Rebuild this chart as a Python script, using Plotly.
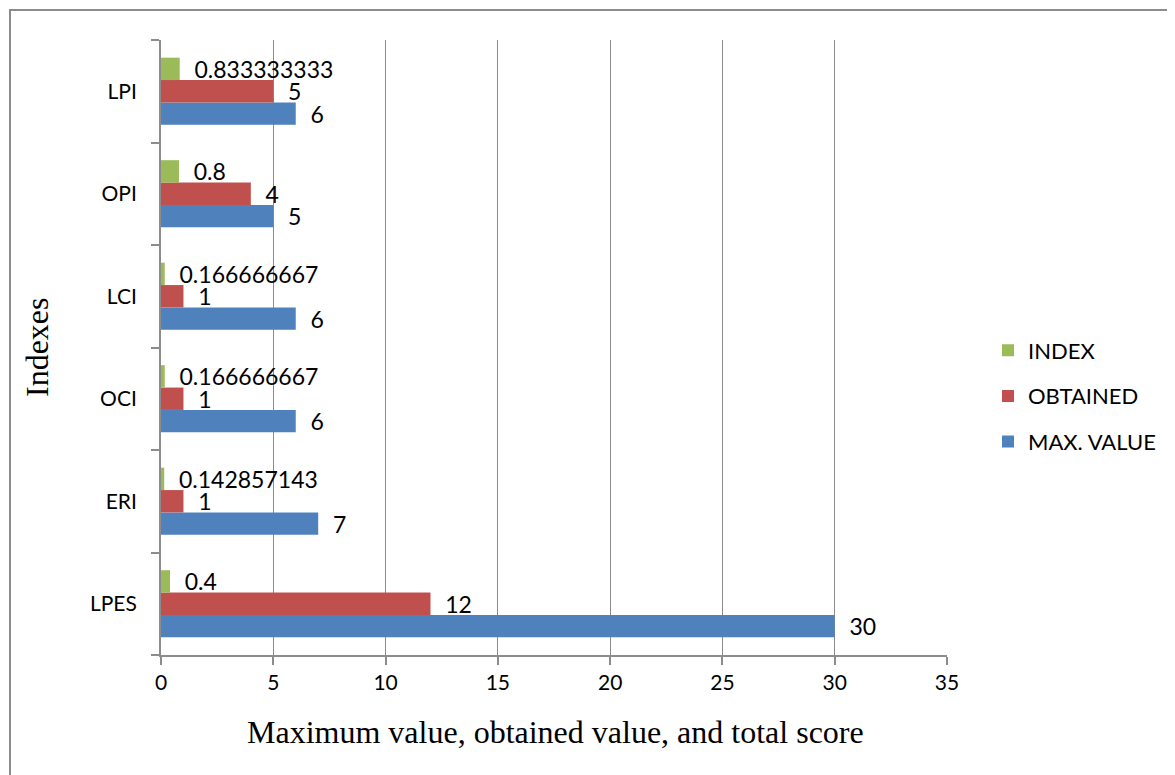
import plotly.graph_objects as go

categories = ["LPES", "ERI", "OCI", "LCI", "OPI", "LPI"]
max_value = [30, 7, 6, 6, 5, 6]
obtained = [12, 1, 1, 1, 4, 5]
index_vals = [0.4, 0.142857143, 0.166666667, 0.166666667, 0.8, 0.833333333]
x_ticks = [0, 5, 10, 15, 20, 25, 30, 35]

series = [
    ("MAX. VALUE", max_value, "#4F81BD", 3),
    ("OBTAINED", obtained, "#C0504D", 2),
    ("INDEX", index_vals, "#9BBB59", 1),
]

fig = go.Figure()
for name, vals, color, rank in series:
    fig.add_trace(go.Bar(
        y=categories, x=vals, name=name, orientation="h",
        marker=dict(color=color, line=dict(width=0)),
        text=["  " + f"{v:.9g}" for v in vals],
        textposition="outside", constraintext="none", cliponaxis=False,
        textfont=dict(family="Lato", size=23, color="black"),
        legendgroup=name, legendrank=rank,
    ))

OFF = 8  # page body margin
W, H = 1175 - OFF, 775 - OFF
L, R, T, B = 161 - OFF, 947 - OFF, 40 - OFF, 655 - OFF
pw, ph = R - L, B - T
fig.update_layout(
    width=W, height=H,
    margin=dict(l=L, r=W - R, t=T, b=H - B, autoexpand=False),
    barmode="group", bargap=0.345, bargroupgap=0,
    plot_bgcolor="white", paper_bgcolor="white",
    font=dict(family="Lato", size=21, color="black"),
    legend=dict(
        x=(988 - OFF - L) / pw, y=(B - (396 - OFF)) / ph, xanchor="left", yanchor="middle",
        traceorder="grouped", tracegroupgap=14,
        font=dict(family="Lato", size=22, color="black"),
        itemwidth=30,
    ),
    showlegend=True,
)
fig.update_xaxes(
    range=[0, 35], tickvals=x_ticks, showgrid=True, gridcolor="#8c8c8c", gridwidth=1.3,
    showline=True, linecolor="#8c8c8c", linewidth=2, ticks="outside", ticklen=8,
    tickcolor="#8c8c8c", tickwidth=2, zeroline=False, automargin=False,
    tickfont=dict(family="Lato", size=21, color="black"),
)
fig.update_yaxes(
    showgrid=False, showline=True, linecolor="#8c8c8c", linewidth=2,
    ticks="outside", tickson="boundaries", ticklen=8, tickcolor="#8c8c8c", tickwidth=2,
    tickfont=dict(family="Lato", size=21, color="black"), automargin=False,
    ticklabelstandoff=18,
)
fig.add_annotation(text="Maximum value, obtained value, and total score",
                   xref="paper", yref="paper", x=(555 - OFF - L) / pw, y=(B - (732 - OFF)) / ph,
                   showarrow=False, xanchor="center", yanchor="middle",
                   font=dict(family="Liberation Serif", size=32, color="black"))
fig.add_annotation(text="Indexes", textangle=-90,
                   xref="paper", yref="paper", x=(37 - OFF - L) / pw, y=(B - (347 - OFF)) / ph,
                   showarrow=False, xanchor="center", yanchor="middle",
                   font=dict(family="Liberation Serif", size=32, color="black"))
# outer chart border
fig.add_shape(type="rect", xref="paper", yref="paper",
              x0=(10 - OFF - L) / pw, x1=(1190 - L) / pw,
              y0=(B - 790) / ph, y1=(B - (10 - OFF)) / ph,
              line=dict(color="#8c8c8c", width=2), layer="below")

fig.write_html("out.html")
